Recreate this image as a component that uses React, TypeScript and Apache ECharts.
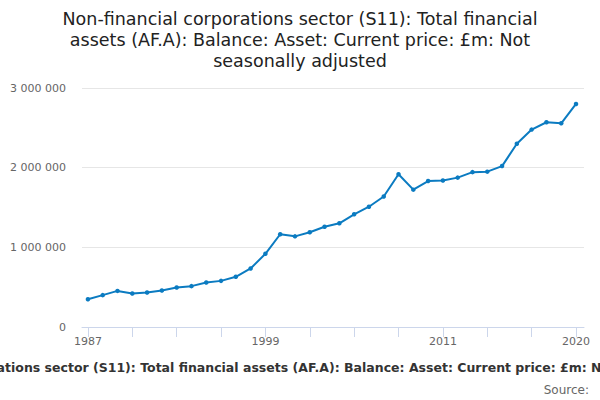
import React, { useEffect, useRef } from "react";
import * as echarts from "echarts";

const years: number[] = [
  1987, 1988, 1989, 1990, 1991, 1992, 1993, 1994, 1995, 1996, 1997, 1998,
  1999, 2000, 2001, 2002, 2003, 2004, 2005, 2006, 2007, 2008, 2009, 2010,
  2011, 2012, 2013, 2014, 2015, 2016, 2017, 2018, 2019, 2020,
];

const assets: number[] = [
  349000, 400000, 453000, 421000, 433000, 458000, 496000, 513000, 559000,
  579000, 630000, 735000, 919000, 1164000, 1138000, 1189000, 1259000, 1302000,
  1415000, 1510000, 1638000, 1918000, 1724000, 1832000, 1838000, 1875000,
  1944000, 1950000, 2020000, 2300000, 2478000, 2570000, 2557000, 2800000,
];

const xTickValues: number[] = [1987, 1990, 1993, 1996, 1999, 2002, 2005, 2008, 2011, 2014, 2017, 2020];
const xLabelValues: number[] = [1987, 1999, 2011, 2020];

const titleText =
  "Non-financial corporations sector (S11): Total financial\nassets (AF.A): Balance: Asset: Current price: £m: Not\nseasonally adjusted";
const seriesName =
  "Non-financial corporations sector (S11): Total financial assets (AF.A): Balance: Asset: Current price: £m: Not seasonally adjusted";

const FONT = "'DejaVu Sans', sans-serif";

export default function App() {
  const ref = useRef<HTMLDivElement>(null);

  useEffect(() => {
    document.body.style.margin = "0";
    if (!ref.current) return;
    const chart = echarts.init(ref.current, undefined, { renderer: "svg" });
    chart.setOption({
      animation: false,
      backgroundColor: "#ffffff",
      textStyle: { fontFamily: FONT },
      title: {
        text: titleText,
        left: "center",
        top: 3,
        textStyle: {
          fontFamily: FONT,
          fontSize: 17.5,
          fontWeight: "normal",
          color: "#222222",
          lineHeight: 21.3,
        },
      },
      grid: { left: 82, right: 16, top: 88, bottom: 73, containLabel: false },
      xAxis: {
        type: "value",
        min: 1986.6,
        max: 2020.54,
        splitLine: { show: false },
        axisLine: { show: true, lineStyle: { color: "#ccd6eb", width: 1 } },
        axisTick: {
          show: true,
          length: 10,
          lineStyle: { color: "#ccd6eb" },
          customValues: xTickValues,
        },
        axisLabel: {
          customValues: xLabelValues,
          color: "#666666",
          fontSize: 11,
          fontFamily: FONT,
          margin: 9,
          formatter: (v: number) => String(v),
        },
      },
      yAxis: {
        type: "value",
        min: 0,
        max: 3000000,
        interval: 1000000,
        axisLine: { show: false },
        axisTick: { show: false },
        splitLine: { lineStyle: { color: "#e6e6e6", width: 1 } },
        axisLabel: {
          color: "#666666",
          fontSize: 11,
          fontFamily: FONT,
          margin: 16,
          formatter: (v: number) =>
            String(Math.round(v)).replace(/\B(?=(\d{3})+(?!\d))/g, " "),
        },
      },
      series: [
        {
          name: seriesName,
          type: "line",
          data: years.map((y, i) => [y, assets[i]]),
          lineStyle: { color: "#0b7bc1", width: 2 },
          itemStyle: { color: "#0b7bc1" },
          symbol: "circle",
          symbolSize: 4.5,
          showSymbol: true,
        },
      ],
      graphic: [
        {
          type: "text",
          x: 307,
          y: 367,
          style: {
            text: seriesName,
            fill: "#333333",
            font: `bold 12.5px ${FONT}`,
            textAlign: "center",
            textVerticalAlign: "middle",
          },
        },
        {
          type: "text",
          x: 589,
          y: 390,
          style: {
            text: "Source:",
            fill: "#666666",
            font: `12px ${FONT}`,
            textAlign: "right",
            textVerticalAlign: "middle",
          },
        },
      ],
    });
    return () => chart.dispose();
  }, []);

  return <div ref={ref} style={{ width: 600, height: 400 }} />;
}
